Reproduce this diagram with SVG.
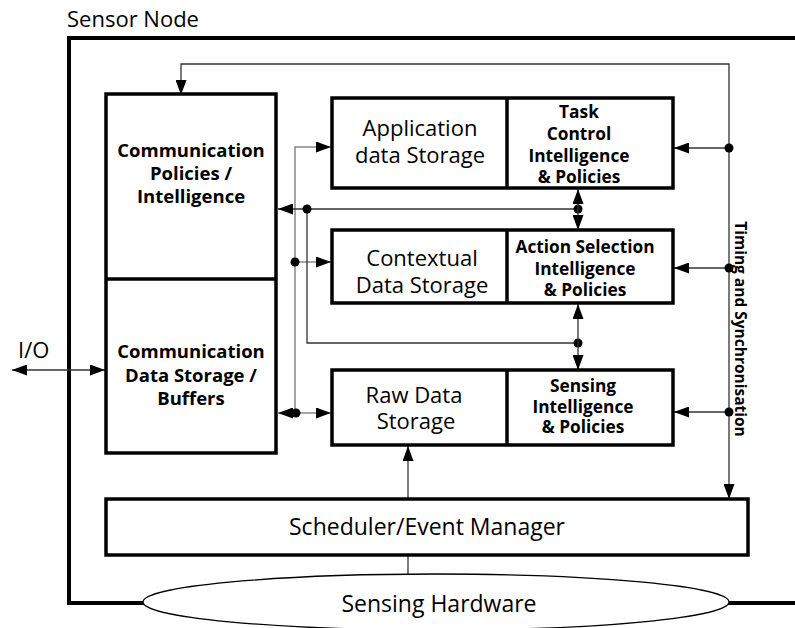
<svg xmlns="http://www.w3.org/2000/svg" width="795" height="628" viewBox="0 0 795 628">
<defs>
<style>
.box{fill:#fff;stroke:#000;stroke-width:3.5}
.outer{fill:none;stroke:#000;stroke-width:4}
.div{stroke:#000;stroke-width:3.5}
.ln{fill:none;stroke:#333;stroke-width:1.3}
.gr{fill:none;stroke:#888;stroke-width:1.5}
.t{font-family:"Open Sans","Noto Sans","DejaVu Sans",sans-serif;font-size:22px;fill:#000;text-anchor:middle}
.b{font-family:"Open Sans","Noto Sans","DejaVu Sans",sans-serif;font-weight:bold;font-size:17.3px;fill:#000;text-anchor:middle}
.bc{font-size:18.5px}
.dot{fill:#000}
</style>
<marker id="ah" markerUnits="userSpaceOnUse" markerWidth="15" markerHeight="11" refX="15" refY="5.5" orient="auto-start-reverse">
<path d="M0,0 L15,5.5 L0,11 z" fill="#000"/>
</marker>
</defs>

<text x="67" y="27" style="font-family:'Open Sans','Noto Sans',sans-serif;font-size:22px">Sensor Node</text>

<g id="sensor-node">
<rect class="outer" x="69" y="38" width="740" height="565"/>
</g>

<g id="connectors">
<path class="ln" d="M181,95 V64 H729 V499" marker-start="url(#ah)" marker-end="url(#ah)"/>
<path class="ln" d="M729,148 H674" marker-end="url(#ah)"/>
<path class="ln" d="M729,268 H674" marker-end="url(#ah)"/>
<path class="ln" d="M729,412 H674" marker-end="url(#ah)"/>
<circle class="dot" cx="729" cy="148" r="4.5"/>
<circle class="dot" cx="729" cy="268" r="4.5"/>
<circle class="dot" cx="729" cy="412" r="4.5"/>

<path class="gr" d="M295,412 V147 H331" marker-end="url(#ah)"/>
<path class="gr" d="M295,262 H331" marker-end="url(#ah)"/>
<path class="gr" d="M278,413 H331" marker-start="url(#ah)" marker-end="url(#ah)"/>
<circle class="dot" cx="295" cy="262" r="4.5"/>
<circle class="dot" cx="296" cy="413" r="4.5"/>

<path class="ln" d="M278,209 H578" marker-start="url(#ah)"/>
<path class="ln" d="M307,209 V343 H578"/>
<circle class="dot" cx="307" cy="209" r="4.5"/>
<circle class="dot" cx="578" cy="209" r="4.5"/>
<circle class="dot" cx="578" cy="343" r="4.5"/>
<path class="ln" d="M578,189 V230" marker-start="url(#ah)" marker-end="url(#ah)"/>
<path class="ln" d="M578,304 V370" marker-start="url(#ah)" marker-end="url(#ah)"/>

<path class="ln" d="M12,370 H105" marker-start="url(#ah)" marker-end="url(#ah)"/>
<path class="ln" d="M408,499 V446" marker-end="url(#ah)"/>
<path class="ln" d="M408,555 V580"/>
</g>

<text x="18" y="358" style="font-family:'Open Sans','Noto Sans',sans-serif;font-size:22px">I/O</text>
<text transform="translate(735,329) rotate(90)" class="b" style="font-size:15.5px">Timing and Synchronisation</text>

<g id="communication">
<rect class="box" x="106" y="94" width="170" height="359"/>
<line class="div" x1="106" y1="279" x2="276" y2="279"/>
<text class="b bc" x="191" y="157">Communication</text>
<text class="b bc" x="191" y="180">Policies /</text>
<text class="b bc" x="191" y="203">Intelligence</text>
<text class="b bc" x="191" y="358">Communication</text>
<text class="b bc" x="191" y="382">Data Storage /</text>
<text class="b bc" x="191" y="405">Buffers</text>
</g>

<g id="application">
<rect class="box" x="332" y="98" width="341" height="90"/>
<line class="div" x1="507" y1="98" x2="507" y2="188"/>
<text class="t" x="420" y="136">Application</text>
<text class="t" x="420" y="163">data Storage</text>
<text class="b" x="579" y="118">Task</text>
<text class="b" x="579" y="140">Control</text>
<text class="b" x="579" y="162">Intelligence</text>
<text class="b" x="579" y="183">&amp; Policies</text>
</g>

<g id="contextual">
<rect class="box" x="332" y="230" width="341" height="73"/>
<line class="div" x1="507" y1="230" x2="507" y2="303"/>
<text class="t" x="422" y="266">Contextual</text>
<text class="t" x="422" y="293">Data Storage</text>
<text class="b" x="585" y="253">Action Selection</text>
<text class="b" x="585" y="275">Intelligence</text>
<text class="b" x="585" y="296">&amp; Policies</text>
</g>

<g id="raw">
<rect class="box" x="332" y="370" width="341" height="75"/>
<line class="div" x1="507" y1="370" x2="507" y2="445"/>
<text class="t" x="414" y="403">Raw Data</text>
<text class="t" x="416" y="429">Storage</text>
<text class="b" x="583" y="392">Sensing</text>
<text class="b" x="583" y="413">Intelligence</text>
<text class="b" x="583" y="433">&amp; Policies</text>
</g>

<g id="scheduler">
<rect class="box" x="106" y="499" width="642" height="56"/>
<text class="t" x="427" y="535" style="font-size:23px">Scheduler/Event Manager</text>
</g>

<g id="sensing-hardware">
<ellipse cx="436" cy="602" rx="293" ry="28" fill="#fff" stroke="#000" stroke-width="1.3"/>
<text class="t" x="439" y="612" style="font-size:23px">Sensing Hardware</text>
</g>
</svg>
